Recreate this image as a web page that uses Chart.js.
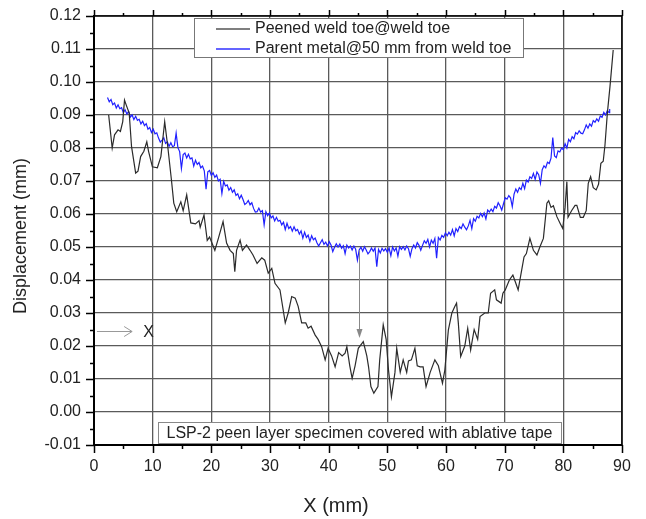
<!DOCTYPE html>
<html>
<head>
<meta charset="utf-8">
<script src="https://cdn.jsdelivr.net/npm/chart.js@4"></script>
<style>
html,body{margin:0;padding:0;background:#fff;}
canvas{display:block;}
</style>
</head>
<body>
<canvas id="c" width="646" height="519"></canvas>
<script>
// ---------- data ----------
const seriesNames = ['Peened weld toe@weld toe', 'Parent metal@50 mm from weld toe'];
const seriesColors = ['#2b2b2b', '#2020ff'];
const xTickValues = [0, 10, 20, 30, 40, 50, 60, 70, 80, 90];
const yTickLabels = ['-0.01','0.00','0.01','0.02','0.03','0.04','0.05','0.06','0.07','0.08','0.09','0.10','0.11','0.12'];
const xTitle = 'X (mm)';
const yTitle = 'Displacement (mm)';
const noteText = 'LSP-2 peen layer specimen covered with ablative tape';
const markerText = 'X';

const blackX = [2.5,3.1,3.5,4.1,4.5,4.9,5.2,5.5,6.0,6.4,7.1,7.5,7.95,8.5,9.0,9.3,9.95,10.8,11.4,12.05,12.6,13.2,13.6,14.1,14.8,15.2,15.8,16.5,17.3,17.9,18.1,18.75,19.3,19.7,20.6,21.2,22.0,22.6,23.2,23.75,24.0,24.3,24.9,25.3,26.0,26.6,27.1,27.8,28.6,29.1,29.7,30.3,30.85,31.7,32.6,33.1,33.7,34.3,34.8,35.4,36.1,36.5,37.0,37.7,38.2,38.8,39.4,39.9,40.5,41.1,41.7,42.3,42.8,43.1,43.6,44.0,44.5,45.05,45.9,46.5,46.8,47.2,47.7,48.4,48.7,49.3,49.8,50.2,50.7,51.3,51.6,52.2,52.7,53.3,53.6,54.1,54.7,55.1,55.6,56.1,56.6,57.3,58.1,58.7,59.4,59.8,60.4,61.0,61.5,61.8,62.1,62.5,63.2,63.7,64.2,64.8,65.4,65.8,66.6,67.2,67.6,68.3,68.6,69.4,69.7,70.1,70.8,71.4,71.9,72.3,72.8,73.3,73.7,74.3,74.9,75.5,76.0,76.6,77.2,77.5,77.9,78.3,78.9,79.5,79.9,80.3,80.6,80.8,81.4,82.0,82.3,82.9,83.4,83.9,84.25,84.65,85.1,85.6,86.0,86.4,86.8,87.1,87.5,87.95,88.2,88.5];
const blackY = [0.090,0.080,0.084,0.0855,0.085,0.088,0.0945,0.093,0.0906,0.0804,0.0724,0.073,0.0774,0.079,0.0819,0.079,0.0743,0.074,0.0774,0.088,0.080,0.0703,0.0633,0.0607,0.0637,0.061,0.0658,0.0573,0.057,0.058,0.056,0.0597,0.052,0.053,0.049,0.0526,0.0577,0.0512,0.049,0.048,0.0425,0.049,0.0521,0.049,0.0506,0.049,0.0476,0.045,0.0467,0.046,0.0421,0.0435,0.039,0.037,0.027,0.030,0.035,0.0345,0.032,0.027,0.027,0.0254,0.026,0.0233,0.022,0.0198,0.0158,0.0193,0.017,0.0137,0.018,0.017,0.0178,0.0198,0.014,0.0102,0.014,0.0193,0.0213,0.017,0.0137,0.0077,0.0057,0.0077,0.0158,0.0264,0.022,0.0127,0.0046,0.012,0.0193,0.012,0.0158,0.012,0.0155,0.0158,0.0193,0.014,0.0137,0.0137,0.0077,0.012,0.0158,0.014,0.0087,0.0127,0.0248,0.030,0.032,0.033,0.027,0.0168,0.020,0.0254,0.0188,0.025,0.022,0.0289,0.030,0.030,0.036,0.037,0.034,0.033,0.036,0.037,0.040,0.0415,0.039,0.037,0.042,0.047,0.048,0.0526,0.049,0.0476,0.050,0.0526,0.0633,0.064,0.062,0.0625,0.0592,0.057,0.0556,0.062,0.0698,0.059,0.061,0.0626,0.0626,0.059,0.059,0.061,0.0693,0.0713,0.068,0.0673,0.069,0.0754,0.076,0.0809,0.0905,0.0986,0.1036,0.1097];

const blueX = [2.3,2.6,2.9,3.2,3.5,3.8,4.1,4.4,4.7,5.0,
5.3,5.6,5.9,6.2,6.5,6.8,7.1,7.4,7.7,8.0,
8.3,8.6,8.9,9.2,9.5,9.8,10.1,10.4,10.7,11.0,
11.3,11.6,11.9,12.2,12.5,12.8,13.1,13.4,13.7,14.0,
14.3,14.6,14.9,15.2,15.5,15.8,16.1,16.4,16.7,17.0,
17.3,17.6,17.9,18.2,18.5,18.8,19.1,19.4,19.7,20.0,
20.3,20.6,20.9,21.2,21.5,21.8,22.1,22.4,22.7,23.0,
23.3,23.6,23.9,24.2,24.5,24.8,25.1,25.4,25.7,26.0,
26.3,26.6,26.9,27.2,27.5,27.8,28.1,28.4,28.7,29.0,
29.3,29.6,29.9,30.2,30.5,30.8,31.1,31.4,31.7,32.0,
32.3,32.6,32.9,33.2,33.5,33.8,34.1,34.4,34.7,35.0,
35.3,35.6,35.9,36.2,36.5,36.8,37.1,37.4,37.7,38.0,
38.3,38.6,38.9,39.2,39.5,39.8,40.1,40.4,40.7,41.0,
41.3,41.6,41.9,42.2,42.5,42.8,43.1,43.4,43.7,44.0,
44.3,44.6,44.9,45.2,45.5,45.8,46.1,46.4,46.7,47.0,
47.3,47.6,47.9,48.2,48.5,48.8,49.1,49.4,49.7,50.0,
50.3,50.6,50.9,51.2,51.5,51.8,52.1,52.4,52.7,53.0,
53.3,53.6,53.9,54.2,54.5,54.8,55.1,55.4,55.7,56.0,
56.3,56.6,56.9,57.2,57.5,57.8,58.1,58.4,58.7,59.0,
59.3,59.6,59.9,60.2,60.5,60.8,61.1,61.4,61.7,62.0,
62.3,62.6,62.9,63.2,63.5,63.8,64.1,64.4,64.7,65.0,
65.3,65.6,65.9,66.2,66.5,66.8,67.1,67.4,67.7,68.0,
68.3,68.6,68.9,69.2,69.5,69.8,70.1,70.4,70.7,71.0,
71.3,71.6,71.9,72.2,72.5,72.8,73.1,73.4,73.7,74.0,
74.3,74.6,74.9,75.2,75.5,75.8,76.1,76.4,76.7,77.0,
77.3,77.6,77.9,78.2,78.5,78.8,79.1,79.4,79.7,80.0,
80.3,80.6,80.9,81.2,81.5,81.8,82.1,82.4,82.7,83.0,
83.3,83.6,83.9,84.2,84.5,84.8,85.1,85.4,85.7,86.0,
86.3,86.6,86.9,87.2,87.5,87.8,87.9];
const blueY = [0.0953,0.0940,0.0947,0.0931,0.0936,0.0921,0.0931,0.0919,0.0922,0.0907,
0.0916,0.0903,0.0911,0.0894,0.0900,0.0886,0.0896,0.0884,0.0887,0.0873,
0.0881,0.0868,0.0874,0.0857,0.0862,0.0847,0.0857,0.0843,0.0846,0.0830,
0.0818,0.0824,0.0831,0.0814,0.0819,0.0805,0.0816,0.0804,0.0807,0.0845,
0.0801,0.0789,0.0738,0.0780,0.0785,0.0770,0.0781,0.0767,0.0770,0.0745,
0.0763,0.0750,0.0756,0.0740,0.0745,0.0731,0.0675,0.0728,0.0732,0.0717,
0.0725,0.0711,0.0718,0.0700,0.0705,0.0662,0.0699,0.0685,0.0688,0.0672,
0.0680,0.0666,0.0673,0.0656,0.0661,0.0646,0.0657,0.0644,0.0629,0.0633,
0.0641,0.0628,0.0634,0.0617,0.0606,0.0607,0.0618,0.0606,0.0610,0.0567,
0.0607,0.0595,0.0603,0.0588,0.0594,0.0579,0.0590,0.0578,0.0581,0.0567,
0.0575,0.0553,0.0572,0.0556,0.0562,0.0548,0.0561,0.0549,0.0553,0.0539,
0.0549,0.0527,0.0545,0.0529,0.0536,0.0517,0.0534,0.0522,0.0527,0.0513,
0.0503,0.0513,0.0522,0.0508,0.0515,0.0503,0.0516,0.0506,0.0486,0.0499,
0.0510,0.0500,0.0509,0.0496,0.0504,0.0480,0.0506,0.0497,0.0503,0.0491,
0.0503,0.0493,0.0460,0.0491,0.0499,0.0487,0.0501,0.0491,0.0479,0.0486,
0.0497,0.0487,0.0497,0.0440,0.0493,0.0482,0.0496,0.0488,0.0495,0.0484,
0.0497,0.0474,0.0500,0.0488,0.0497,0.0472,0.0501,0.0493,0.0501,0.0491,
0.0503,0.0495,0.0472,0.0495,0.0506,0.0497,0.0513,0.0505,0.0490,0.0505,
0.0519,0.0511,0.0523,0.0500,0.0521,0.0511,0.0526,0.0466,0.0529,0.0521,
0.0535,0.0529,0.0543,0.0534,0.0545,0.0536,0.0553,0.0534,0.0556,0.0547,
0.0562,0.0556,0.0570,0.0560,0.0552,0.0564,0.0581,0.0556,0.0586,0.0578,
0.0593,0.0588,0.0602,0.0592,0.0603,0.0585,0.0612,0.0606,0.0615,0.0607,
0.0623,0.0618,0.0634,0.0625,0.0612,0.0631,0.0649,0.0645,0.0656,0.0649,
0.0622,0.0660,0.0676,0.0666,0.0680,0.0674,0.0693,0.0677,0.0703,0.0697,
0.0713,0.0708,0.0723,0.0705,0.0727,0.0719,0.0693,0.0734,0.0746,0.0740,
0.0757,0.0753,0.0769,0.0832,0.0776,0.0771,0.0791,0.0788,0.0800,0.0795,
0.0813,0.0800,0.0826,0.0819,0.0834,0.0828,0.0847,0.0842,0.0852,0.0845,
0.0843,0.0855,0.0870,0.0860,0.0873,0.0866,0.0883,0.0878,0.0888,0.0881,
0.0897,0.0893,0.0908,0.0900,0.0913,0.0907,0.0918];

// annotation anchor values (data units)
const arrowDownX = 45.2, arrowDownFrom = 0.049, arrowDownTo = 0.0224;
const markerY = 0.0245, markerFromX = 0.5, markerToX = 6.5;

// ---------- styling ----------
const FONT = '"Liberation Sans", Arial, sans-serif';
const TXT = '#222';
const GRID = '#5a5a5a';

const decorPlugin = {
  id: 'decor',
  afterDraw(chart) {
    const ctx = chart.ctx;
    const a = chart.chartArea;
    const xs = chart.scales.x, ys = chart.scales.y;
    ctx.save();
    // top & right border
    ctx.strokeStyle = '#000';
    ctx.lineWidth = 1.5;
    ctx.beginPath();
    ctx.moveTo(a.left, a.top); ctx.lineTo(a.right, a.top); ctx.lineTo(a.right, a.bottom);
    ctx.stroke();
    // ticks
    ctx.lineWidth = 1.5;
    ctx.beginPath();
    for (let v = 0; v <= 90.001; v += 5) {
      const px = Math.round(xs.getPixelForValue(v)) + 0.5;
      const major = Math.abs(v % 10) < 1e-6;
      ctx.moveTo(px, a.bottom); ctx.lineTo(px, a.bottom + (major ? 8 : 4));
      ctx.moveTo(px, a.top); ctx.lineTo(px, a.top - (major ? 6 : 3));
    }
    for (let i = 0; i <= 26; i++) {
      const v = -0.01 + i * 0.005;
      const py = Math.round(ys.getPixelForValue(v)) + 0.5;
      const major = i % 2 === 0;
      ctx.moveTo(a.left, py); ctx.lineTo(a.left - (major ? 8 : 4), py);
    }
    ctx.stroke();

    // legend box
    const lx = a.left + 100, ly = a.top + 2, lw = 329, lh = 39;
    ctx.fillStyle = '#fff';
    ctx.fillRect(lx, ly, lw, lh);
    ctx.strokeStyle = '#777';
    ctx.lineWidth = 1;
    ctx.strokeRect(lx + 0.5, ly + 0.5, lw, lh);
    ctx.font = '16px ' + FONT;
    ctx.textBaseline = 'middle';
    ctx.textAlign = 'left';
    seriesNames.forEach((name, i) => {
      const cy = ly + 11 + i * 20;
      ctx.strokeStyle = i === 0 ? '#555' : '#3030ff';
      ctx.lineWidth = 1.5;
      ctx.beginPath();
      ctx.moveTo(lx + 22, cy); ctx.lineTo(lx + 56, cy);
      ctx.stroke();
      ctx.fillStyle = TXT;
      ctx.fillText(name, lx + 61, cy);
    });

    // note box
    const bx = a.left + 64, by = a.bottom - 23, bw = 403, bh = 21;
    ctx.fillStyle = '#fff';
    ctx.fillRect(bx, by, bw, bh);
    ctx.strokeStyle = '#888';
    ctx.lineWidth = 1;
    ctx.strokeRect(bx + 0.5, by + 0.5, bw, bh);
    ctx.fillStyle = TXT;
    ctx.textAlign = 'center';
    ctx.fillText(noteText, bx + bw / 2, by + bh / 2 + 1);

    // horizontal marker arrow -> X
    const my = Math.round(ys.getPixelForValue(markerY)) + 0.5;
    const mx0 = xs.getPixelForValue(markerFromX), mx1 = xs.getPixelForValue(markerToX);
    ctx.strokeStyle = '#999';
    ctx.lineWidth = 1;
    ctx.beginPath();
    ctx.moveTo(mx0, my); ctx.lineTo(mx1, my);
    ctx.moveTo(mx1 - 8, my - 5); ctx.lineTo(mx1, my); ctx.lineTo(mx1 - 8, my + 5);
    ctx.stroke();
    ctx.fillStyle = TXT;
    ctx.textAlign = 'left';
    ctx.fillText(markerText, mx1 + 11, my + 1);

    // vertical arrow
    const vx = Math.round(xs.getPixelForValue(arrowDownX)) + 0.5;
    const vy0 = ys.getPixelForValue(arrowDownFrom), vy1 = ys.getPixelForValue(arrowDownTo);
    ctx.strokeStyle = '#888';
    ctx.beginPath();
    ctx.moveTo(vx, vy0); ctx.lineTo(vx, vy1 - 8);
    ctx.stroke();
    ctx.fillStyle = '#888';
    ctx.beginPath();
    ctx.moveTo(vx - 3, vy1 - 9); ctx.lineTo(vx + 3, vy1 - 9); ctx.lineTo(vx, vy1);
    ctx.closePath();
    ctx.fill();

    // axis titles
    ctx.fillStyle = TXT;
    ctx.font = '20px ' + FONT;
    ctx.textAlign = 'center';
    ctx.textBaseline = 'middle';
    ctx.fillText(xTitle, 336, 506);
    ctx.save();
    ctx.translate(21, 236);
    ctx.rotate(-Math.PI / 2);
    ctx.font = '18px ' + FONT;
    ctx.fillText(yTitle, 0, 0);
    ctx.restore();

    ctx.restore();
  }
};

new Chart(document.getElementById('c'), {
  type: 'line',
  data: {
    datasets: [
      { label: seriesNames[0], data: blackX.map((x, i) => ({ x, y: blackY[i] })),
        borderColor: seriesColors[0], borderWidth: 1.2, pointRadius: 0, tension: 0, fill: false },
      { label: seriesNames[1], data: blueX.map((x, i) => ({ x, y: blueY[i] })),
        borderColor: seriesColors[1], borderWidth: 1.2, pointRadius: 0, tension: 0, fill: false }
    ]
  },
  options: {
    responsive: false,
    animation: false,
    devicePixelRatio: 1,
    layout: { padding: { left: 0, right: 24, top: 16, bottom: 0 } },
    plugins: { legend: { display: false }, tooltip: { enabled: false } },
    scales: {
      x: {
        type: 'linear', min: 0, max: 90,
        afterBuildTicks: s => { s.ticks = xTickValues.map(v => ({ value: v })); },
        ticks: { padding: 12, color: TXT, font: { size: 16, family: FONT }, maxRotation: 0,
                 callback: v => String(v) },
        grid: { color: GRID, lineWidth: 1.3, drawTicks: false },
        border: { display: true, color: '#000', width: 2 },
        afterFit: s => { s.height = 74; s.paddingLeft = 0; s.paddingRight = 0; }
      },
      y: {
        type: 'linear', min: -0.01, max: 0.12,
        afterBuildTicks: s => { s.ticks = yTickLabels.map(t => ({ value: parseFloat(t) })); },
        ticks: { padding: 13, color: TXT, font: { size: 16, family: FONT },
                 callback: (v, i) => yTickLabels[i] },
        grid: { color: GRID, lineWidth: 1.3, drawTicks: false },
        border: { display: true, color: '#000', width: 2 },
        afterFit: s => { s.width = 94; s.paddingTop = 0; s.paddingBottom = 0; }
      }
    }
  },
  plugins: [decorPlugin]
});
</script>
</body>
</html>
